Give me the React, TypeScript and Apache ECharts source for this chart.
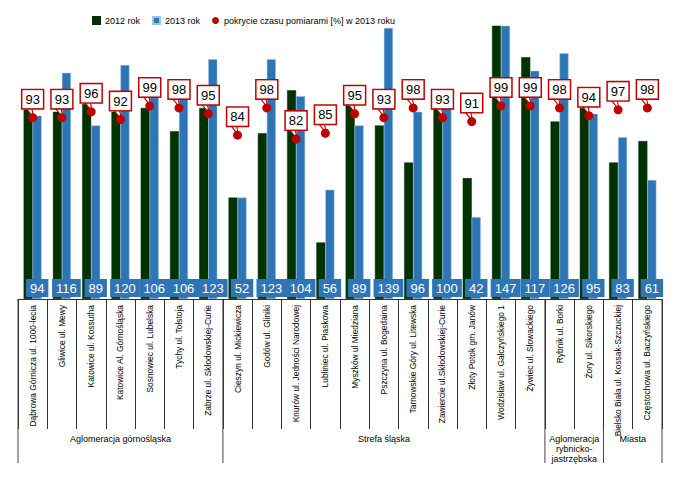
import React, { useEffect, useRef } from "react";
import * as echarts from "echarts";

const categories = [
  "Dąbrowa Górnicza ul. 1000-lecia",
  "Gliwice ul. Mewy",
  "Katowice ul. Kossutha",
  "Katowice Al. Górnośląska",
  "Sosnowiec ul. Lubelska",
  "Tychy ul. Tołstoja",
  "Zabrze ul. Skłodowskiej-Curie",
  "Cieszyn ul. Mickiewicza",
  "Godów ul. Gliniki",
  "Knurów ul. Jedności Narodowej",
  "Lubliniec ul. Piaskowa",
  "Myszków ul Miedziana",
  "Pszczyna ul. Bogedaina",
  "Tarnowskie Góry ul. Litewska",
  "Zawiercie ul.Skłodowskiej-Curie",
  "Złoty Potok gm. Janów",
  "Wodzisław ul. Gałczyńskiego 1",
  "Żywiec ul. Słowackiego",
  "Rybnik ul. Borki",
  "Żory ul. Sikorskiego",
  "Bielsko Biała ul. Kossak-Szczuckiej",
  "Częstochowa ul. Baczyńskiego",
];

const values2012 = [97, 96, 100, 96, 98, 86, 98, 52, 85, 107, 29, 100, 89, 70, 98, 62, 150, 124, 91, 98, 70, 81];
const values2013 = [94, 116, 89, 120, 106, 106, 123, 52, 123, 104, 56, 89, 139, 96, 100, 42, 147, 117, 126, 95, 83, 61];
const coverage2013 = [93, 93, 96, 92, 99, 98, 95, 84, 98, 82, 85, 95, 93, 98, 93, 91, 99, 99, 98, 94, 97, 98];

const groupNames = ["Aglomeracja górnośląska", "Strefa śląska", "Aglomeracja\nrybnicko-\njastrzębska", "Miasta"];
const groupSizes = [7, 11, 2, 2];

const seriesNames = ["2012 rok", "2013 rok", "pokrycie czasu pomiarami [%] w 2013 roku"];

const FONT = "'Liberation Sans', Arial, sans-serif";
const GREEN = "#003300";
const BLUE = "#2E75B6";
const RED = "#C00000";

export default function App() {
  const ref = useRef<HTMLDivElement>(null);

  useEffect(() => {
    if (!ref.current) return;
    const chart = echarts.init(ref.current, null, { renderer: "svg" });
    const option: any = {
      animation: false,
      backgroundColor: "#ffffff",
      textStyle: { fontFamily: FONT },
      legend: {
        data: [
          { name: seriesNames[0], icon: "rect" },
          { name: seriesNames[1], icon: "rect" },
          { name: seriesNames[2], icon: "circle" },
        ],
        left: 92,
        top: 16,
        itemWidth: 7,
        itemHeight: 7,
        itemGap: 12,
        padding: 0,
        textStyle: { fontSize: 9, color: "#000", fontFamily: FONT },
      },
      grid: { left: 18, right: 22, top: 26, bottom: 192 },
      xAxis: {
        type: "category",
        data: categories,
        axisLine: { show: true, lineStyle: { color: "#333", width: 1 } },
        axisTick: { show: true, interval: 0, length: 130, lineStyle: { color: "#333", width: 1 } },
        axisLabel: {
          interval: 0,
          rotate: 90,
          fontSize: 8.4,
          color: "#000",
          margin: 6,
          fontFamily: FONT,
        },
      },
      yAxis: {
        type: "value",
        min: 0,
        max: 140,
        show: false,
        splitLine: { show: false },
      },
      series: [
        {
          name: seriesNames[0],
          type: "bar",
          data: values2012,
          barWidth: 9,
          barGap: "0%",
          itemStyle: { color: GREEN, borderColor: "#0a2a0a", borderWidth: 0.5 },
        },
        {
          name: seriesNames[1],
          type: "bar",
          data: values2013,
          barWidth: 9,
          barGap: "0%",
          itemStyle: { color: BLUE, borderColor: "#9dc3e6", borderWidth: 0.5 },
          label: {
            show: true,
            position: "insideBottom",
            distance: 2,
            color: "#fff",
            fontSize: 13,
            lineHeight: 14,
            fontFamily: FONT,
            backgroundColor: BLUE,
            padding: [2, 4, 2, 4],
          },
          z: 3,
        },
        {
          name: "tail",
          type: "scatter",
          data: coverage2013,
          symbol: "path://M0 0 L6 0 L8 10 Z",
          symbolSize: [8, 10],
          symbolOffset: [-3, -5],
          itemStyle: { color: "#fff", borderColor: RED, borderWidth: 1.2, opacity: 1 },
          silent: true,
          z: 4,
        },
        {
          name: seriesNames[2],
          type: "scatter",
          data: coverage2013,
          symbol: "circle",
          symbolSize: 9,
          itemStyle: { color: RED, opacity: 1 },
          z: 5,
          label: {
            show: true,
            position: "top",
            distance: 5,
            color: "#000",
            opacity: 1,
            fontSize: 13,
            lineHeight: 14,
            fontFamily: FONT,
            backgroundColor: "#fff",
            borderColor: RED,
            borderWidth: 1.5,
            padding: [2, 3, 2, 3],
          },
        },
      ],
    };
    chart.setOption(option);

    const c0 = chart.convertToPixel({ xAxisIndex: 0 }, 0) as number;
    const c1 = chart.convertToPixel({ xAxisIndex: 0 }, 1) as number;
    const w = c1 - c0;
    const yb = chart.convertToPixel({ yAxisIndex: 0 }, 0) as number;
    const elements: any[] = [];
    let start = 0;
    const bounds: number[] = [c0 - w / 2];
    groupSizes.forEach((n, gi) => {
      const left = c0 - w / 2 + start * w;
      const right = left + n * w;
      bounds.push(right);
      elements.push({
        type: "text",
        x: (left + right) / 2,
        y: yb + 135,
        style: {
          text: groupNames[gi],
          fontSize: 9,
          lineHeight: 10,
          fill: "#000",
          font: `9px ${FONT}`,
          align: "center",
          verticalAlign: "top",
        },
      });
      start += n;
    });
    bounds.forEach((bx) => {
      elements.push({
        type: "line",
        shape: { x1: bx, y1: yb, x2: bx, y2: yb + 164 },
        style: { stroke: "#444", lineWidth: 1 },
      });
    });
    chart.setOption({ graphic: elements });

    return () => chart.dispose();
  }, []);

  return (
    <div
      ref={ref}
      style={{ position: "fixed", left: 0, top: 0, width: 684, height: 491 }}
    />
  );
}
